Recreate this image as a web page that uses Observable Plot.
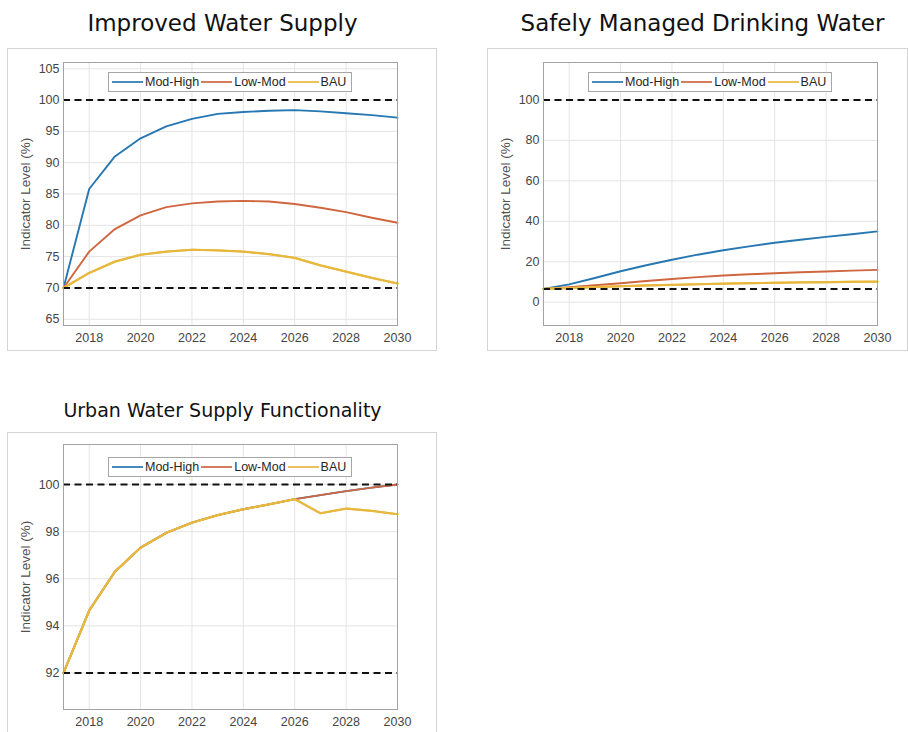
<!DOCTYPE html>
<html>
<head>
<meta charset="utf-8">
<script src="https://cdn.jsdelivr.net/npm/d3@7"></script>
<script src="https://cdn.jsdelivr.net/npm/@observablehq/plot@0.6"></script>
<style>
  body { margin: 0; background: #fff; }
  #page { position: relative; width: 908px; height: 732px; overflow: hidden; background: #fff; }
  .title { position: absolute; font-family: "DejaVu Sans", sans-serif; color: #111; text-align: center; white-space: nowrap; }
  .frame { position: absolute; border: 1px solid #d4d4d4; box-sizing: border-box; pointer-events: none; }
  .panel { position: absolute; }
  .panel svg { display: block; }
  .legend { position: absolute; border: 1px solid #a6a6a6; background: #fff; box-sizing: border-box;
            display: flex; align-items: center; padding-left: 3px;
            font-family: "Liberation Sans", Arial, sans-serif; font-size: 12.5px; color: #262626; }
  .legend .item { display: flex; align-items: center; margin-right: 2px; }
  .legend svg { display: block; margin-right: 2px; }
</style>
</head>
<body>
<div id="page"></div>
<script>
// ---------- shared ----------
const years = [2017, 2018, 2019, 2020, 2021, 2022, 2023, 2024, 2025, 2026, 2027, 2028, 2029, 2030];
const seriesNames = ["Mod-High", "Low-Mod", "BAU"];
const seriesColors = ["#2677b2", "#cf6640", "#e8b83e"];
const xTicks = [2018, 2020, 2022, 2024, 2026, 2028, 2030];
const yAxisLabel = "Indicator Level (%)";

// ---------- Improved Water Supply ----------
const iwsTitle = "Improved Water Supply";
const iwsModHigh = [70, 85.8, 91.0, 93.9, 95.8, 97.0, 97.8, 98.1, 98.3, 98.4, 98.2, 97.9, 97.6, 97.2];
const iwsLowMod  = [70, 75.8, 79.4, 81.6, 82.9, 83.5, 83.8, 83.9, 83.8, 83.4, 82.8, 82.1, 81.2, 80.4];
const iwsBAU     = [70, 72.4, 74.2, 75.3, 75.8, 76.1, 76.0, 75.8, 75.4, 74.8, 73.6, 72.6, 71.6, 70.7];
const iwsRefs = [100, 70];
const iwsYTicks = [65, 70, 75, 80, 85, 90, 95, 100, 105];
const iwsYDomain = [64, 106];

// ---------- Safely Managed Drinking Water ----------
const smdTitle = "Safely Managed Drinking Water";
const smdModHigh = [6.6, 8.8, 12.0, 15.3, 18.3, 21.0, 23.5, 25.7, 27.6, 29.4, 30.9, 32.3, 33.6, 35.0];
const smdLowMod  = [6.6, 7.4, 8.4, 9.4, 10.5, 11.5, 12.4, 13.2, 13.8, 14.3, 14.8, 15.2, 15.6, 16.0];
const smdBAU     = [6.6, 7.0, 7.5, 7.9, 8.3, 8.6, 8.9, 9.2, 9.4, 9.6, 9.8, 9.9, 10.1, 10.2];
const smdRefs = [100, 6.6];
const smdYTicks = [0, 20, 40, 60, 80, 100];
const smdYDomain = [-11.5, 118.5];

// ---------- Urban Water Supply Functionality ----------
const uwsTitle = "Urban Water Supply Functionality";
const uwsModHigh = [92.0, 94.65, 96.3, 97.32, 97.95, 98.38, 98.7, 98.95, 99.16, 99.38, 99.55, 99.72, 99.87, 100.0];
const uwsLowMod  = [92.0, 94.65, 96.3, 97.32, 97.95, 98.38, 98.7, 98.95, 99.16, 99.38, 99.55, 99.72, 99.87, 100.0];
const uwsBAU     = [92.0, 94.65, 96.3, 97.32, 97.95, 98.38, 98.7, 98.95, 99.16, 99.38, 98.78, 98.98, 98.88, 98.74];
const uwsRefs = [100, 92];
const uwsYTicks = [92, 94, 96, 98, 100];
const uwsYDomain = [90.45, 101.7];

const page = document.getElementById("page");

function makeTitle(text, box) {
  const d = document.createElement("div");
  d.className = "title";
  d.textContent = text;
  Object.assign(d.style, {left: box.left + "px", top: box.top + "px", width: box.width + "px",
    fontSize: box.fontSize + "px", lineHeight: box.fontSize + "px"});
  page.appendChild(d);
}

function makeLegend(box) {
  const d = document.createElement("div");
  d.className = "legend";
  Object.assign(d.style, {left: box.left + "px", top: box.top + "px", width: box.width + "px", height: box.height + "px"});
  seriesNames.forEach((name, i) => {
    const item = document.createElement("div");
    item.className = "item";
    const ns = "http://www.w3.org/2000/svg";
    const s = document.createElementNS(ns, "svg");
    s.setAttribute("width", 31); s.setAttribute("height", 10);
    const ln = document.createElementNS(ns, "line");
    ln.setAttribute("x1", 0); ln.setAttribute("x2", 31); ln.setAttribute("y1", 5); ln.setAttribute("y2", 5);
    ln.setAttribute("stroke", seriesColors[i]); ln.setAttribute("stroke-width", 1.7);
    s.appendChild(ln);
    const t = document.createElement("span");
    t.textContent = name;
    item.appendChild(s); item.appendChild(t);
    d.appendChild(item);
  });
  page.appendChild(d);
}

function makePanel(cfg) {
  const rows = [];
  [cfg.modHigh, cfg.lowMod, cfg.bau].forEach((vals, i) => {
    vals.forEach((v, j) => rows.push({year: years[j], value: v, series: seriesNames[i]}));
  });
  const chart = Plot.plot({
    width: cfg.width, height: cfg.height,
    marginLeft: cfg.mL, marginRight: cfg.mR, marginTop: cfg.mT, marginBottom: cfg.mB,
    style: {fontFamily: "Liberation Sans, Arial, sans-serif", fontSize: "12px", color: "#454545", background: "transparent"},
    x: {domain: [2017, 2030], label: null},
    y: {domain: cfg.yDomain, label: null},
    color: {domain: seriesNames, range: seriesColors},
    marks: [
      Plot.gridX(xTicks, {stroke: "#e4e4e4", strokeOpacity: 1}),
      Plot.gridY(cfg.yTicks, {stroke: "#e4e4e4", strokeOpacity: 1}),
      Plot.line(rows, {x: "year", y: "value", z: "series", stroke: "series", strokeWidth: 1.9}),
      Plot.line(rows.filter(d => d.series === "BAU"), {x: "year", y: "value", stroke: "series", strokeWidth: 2.2}),
      Plot.ruleY(cfg.refs, {stroke: "#111", strokeWidth: 2, strokeDasharray: "7,4.5"}),
      Plot.frame({stroke: "#a3a3a3"}),
      Plot.axisX(xTicks, {anchor: "bottom", tickSize: 0, tickPadding: 8, tickFormat: "d", fontSize: 12.5}),
      Plot.axisY(cfg.yTicks, {anchor: "left", tickSize: 0, tickPadding: 4, fontSize: 12.5}),
      Plot.axisY(cfg.yTicks, {anchor: "left", tickSize: 0, tickFormat: () => "", label: yAxisLabel,
        labelAnchor: "center", labelOffset: 43, labelArrow: "none", fontSize: 13.5, color: "#505050"})
    ]
  });
  const wrap = document.createElement("div");
  wrap.className = "panel";
  Object.assign(wrap.style, {left: cfg.left + "px", top: cfg.top + "px", width: cfg.width + "px", height: cfg.height + "px"});
  wrap.appendChild(chart);
  page.appendChild(wrap);
  const fr = document.createElement("div");
  fr.className = "frame";
  Object.assign(fr.style, {left: cfg.left + "px", top: cfg.top + "px", width: cfg.width + "px", height: cfg.frameH + "px"});
  page.appendChild(fr);
}

makeTitle(iwsTitle, {left: 7, top: 12, width: 431, fontSize: 23});
makeTitle(smdTitle, {left: 487, top: 12, width: 431, fontSize: 23});
makeTitle(uwsTitle, {left: 7, top: 401, width: 431, fontSize: 19});

makePanel({left: 7, top: 48, width: 430, height: 303, frameH: 303, mL: 56, mR: 40, mT: 14, mB: 26,
  modHigh: iwsModHigh, lowMod: iwsLowMod, bau: iwsBAU, refs: iwsRefs, yTicks: iwsYTicks, yDomain: iwsYDomain});
makePanel({left: 487, top: 48, width: 421, height: 303, frameH: 303, mL: 56, mR: 31, mT: 14, mB: 26,
  modHigh: smdModHigh, lowMod: smdLowMod, bau: smdBAU, refs: smdRefs, yTicks: smdYTicks, yDomain: smdYDomain});
makePanel({left: 7, top: 432, width: 430, height: 300, frameH: 302, mL: 56, mR: 40, mT: 12, mB: 23,
  modHigh: uwsModHigh, lowMod: uwsLowMod, bau: uwsBAU, refs: uwsRefs, yTicks: uwsYTicks, yDomain: uwsYDomain});

makeLegend({left: 108, top: 72, width: 244, height: 20});
makeLegend({left: 588, top: 72, width: 244, height: 20});
makeLegend({left: 108, top: 457, width: 244, height: 20});
</script>
</body>
</html>
